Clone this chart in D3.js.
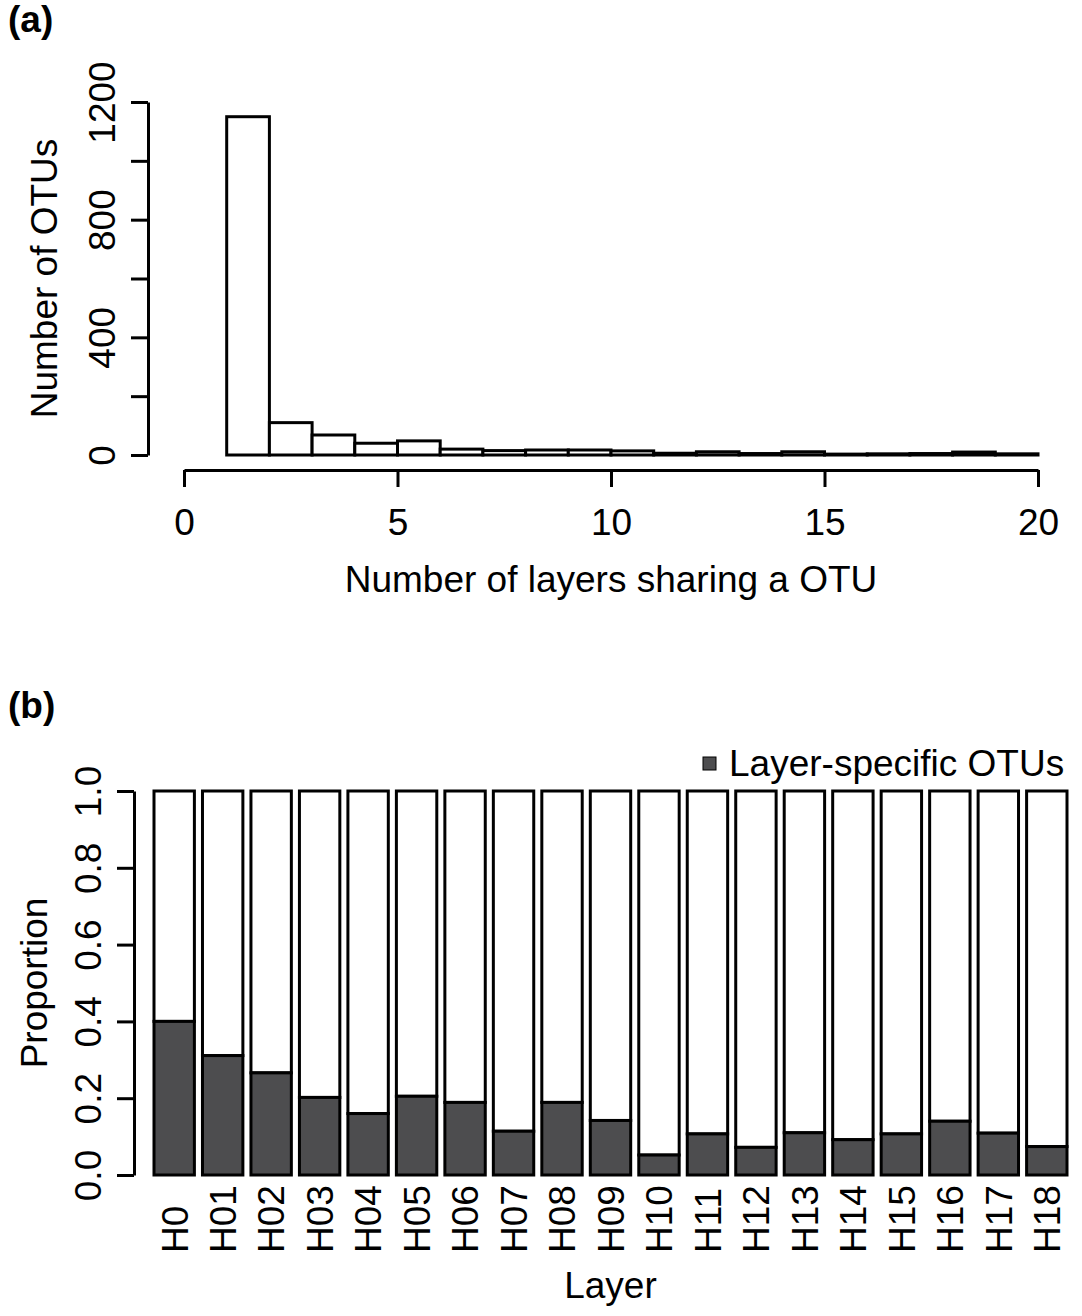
<!DOCTYPE html>
<html>
<head>
<meta charset="utf-8">
<script src="https://cdn.jsdelivr.net/npm/d3@7"></script>
<style>
  html, body { margin: 0; padding: 0; background: #fff; }
  svg { display: block; font-family: "Liberation Sans", Arial, Helvetica, sans-serif; }
</style>
</head>
<body>
<svg id="chart" width="1082" height="1316"></svg>
<script>
// ---------- Data ----------
// Panel (a): histogram of number of layers sharing an OTU (bins [k, k+1))
const binStarts = [1,2,3,4,5,6,7,8,9,10,11,12,13,14,15,16,17,18,19];
const otuCounts = [1150,110,68,40,48,20,15,17,17,14,6,11,5,11,3,4,5,10,4];
const histXTicks = [0,5,10,15,20];
const histYTicks = [0,200,400,600,800,1000,1200];
const histYLabels = [0,400,800,1200];

// Panel (b): proportion of layer-specific OTUs per layer
const layers = ["H0","H01","H02","H03","H04","H05","H06","H07","H08","H09",
                "H10","H11","H12","H13","H14","H15","H16","H17","H18"];
const specificProp = [0.40,0.311,0.266,0.202,0.160,0.205,0.189,0.114,0.189,0.142,
                      0.052,0.107,0.072,0.110,0.092,0.107,0.140,0.109,0.074];
const propTicks = [0,0.2,0.4,0.6,0.8,1.0];
const legendLabel = "Layer-specific OTUs";

// ---------- Styles ----------
const FS = 37;
const DARK = "#4d4d4f";
const svg = d3.select("#chart");

// ================= Panel (a) =================
const xA = d3.scaleLinear().domain([0,20]).range([184,1038]);
const yA = d3.scaleLinear().domain([0,1200]).range([455,102]);

svg.append("text").attr("x",8).attr("y",32)
  .attr("font-size",FS).attr("font-weight","bold").text("(a)");

svg.append("g").selectAll("rect").data(binStarts).join("rect")
  .attr("x", d => xA(d))
  .attr("width", d => xA(d+1) - xA(d))
  .attr("y", (d,i) => yA(otuCounts[i]))
  .attr("height", (d,i) => yA(0) - yA(otuCounts[i]))
  .attr("fill","#fff").attr("stroke","#000").attr("stroke-width",3);

// y axis (a)
const gyA = svg.append("g").attr("transform","translate(148,0)")
  .call(d3.axisLeft(yA).tickValues(histYTicks).tickSize(17).tickSizeOuter(0)
    .tickFormat(d => histYLabels.includes(d) ? d : ""));
gyA.select(".domain").attr("stroke-width",3);
gyA.selectAll(".tick line").attr("stroke-width",3);
gyA.selectAll(".tick text")
  .attr("font-size",FS).attr("font-family","Liberation Sans, Arial, sans-serif")
  .attr("fill","#000")
  .attr("transform","rotate(-90)")
  .attr("x",0).attr("y",-33).attr("dy",0)
  .attr("text-anchor","middle");

svg.append("text")
  .attr("transform", `translate(57,${(yA(0)+yA(1200))/2}) rotate(-90)`)
  .attr("text-anchor","middle").attr("font-size",FS)
  .text("Number of OTUs");

// x axis (a)
const gxA = svg.append("g").attr("transform","translate(0,470)")
  .call(d3.axisBottom(xA).tickValues(histXTicks).tickSize(17).tickSizeOuter(0));
gxA.select(".domain").attr("stroke-width",3);
gxA.selectAll(".tick line").attr("stroke-width",3);
gxA.selectAll(".tick text")
  .attr("font-size",FS).attr("font-family","Liberation Sans, Arial, sans-serif")
  .attr("fill","#000").attr("y",65).attr("dy",0);

svg.append("text")
  .attr("x",(xA(0)+xA(20))/2).attr("y",592)
  .attr("text-anchor","middle").attr("font-size",FS)
  .text("Number of layers sharing a OTU");

// ================= Panel (b) =================
const xB = d3.scaleBand().domain(layers).range([154,1067])
  .paddingInner(1/6).paddingOuter(0);
const yB = d3.scaleLinear().domain([0,1]).range([1175,791]);

svg.append("text").attr("x",8).attr("y",718)
  .attr("font-size",FS).attr("font-weight","bold").text("(b)");

const bars = svg.append("g");
bars.selectAll("rect.top").data(layers).join("rect").attr("class","top")
  .attr("x", d => xB(d)).attr("width", xB.bandwidth())
  .attr("y", (d,i) => yB(1))
  .attr("height", (d,i) => yB(specificProp[i]) - yB(1))
  .attr("fill","#fff").attr("stroke","#000").attr("stroke-width",3);
bars.selectAll("rect.bot").data(layers).join("rect").attr("class","bot")
  .attr("x", d => xB(d)).attr("width", xB.bandwidth())
  .attr("y", (d,i) => yB(specificProp[i]))
  .attr("height", (d,i) => yB(0) - yB(specificProp[i]))
  .attr("fill",DARK).attr("stroke","#000").attr("stroke-width",3);

// y axis (b)
const gyB = svg.append("g").attr("transform","translate(134,0)")
  .call(d3.axisLeft(yB).tickValues(propTicks).tickSize(17).tickSizeOuter(0)
    .tickFormat(d3.format(".1f")));
gyB.select(".domain").attr("stroke-width",3);
gyB.selectAll(".tick line").attr("stroke-width",3);
gyB.selectAll(".tick text")
  .attr("font-size",FS).attr("font-family","Liberation Sans, Arial, sans-serif")
  .attr("fill","#000")
  .attr("transform","rotate(-90)")
  .attr("x",0).attr("y",-33).attr("dy",0)
  .attr("text-anchor","middle");

svg.append("text")
  .attr("transform", `translate(47,${(yB(0)+yB(1))/2}) rotate(-90)`)
  .attr("text-anchor","middle").attr("font-size",FS)
  .text("Proportion");

// x labels (b)
const gxB = svg.append("g").attr("transform",`translate(0,${yB(0)})`)
  .call(d3.axisBottom(xB).tickSize(0));
gxB.select(".domain").remove();
gxB.selectAll(".tick text")
  .attr("font-size",FS).attr("font-family","Liberation Sans, Arial, sans-serif")
  .attr("fill","#000")
  .attr("transform","rotate(-90)")
  .attr("x",-78).attr("y",0).attr("dy","0.36em")
  .attr("text-anchor","start");

svg.append("text")
  .attr("x",(xB.range()[0]+xB.range()[1])/2).attr("y",1298)
  .attr("text-anchor","middle").attr("font-size",FS)
  .text("Layer");

// legend
const lg = svg.append("g");
lg.append("rect").attr("x",703).attr("y",757).attr("width",13).attr("height",13)
  .attr("fill",DARK).attr("stroke","#000").attr("stroke-width",1);
lg.append("text").attr("x",729).attr("y",776).attr("font-size",FS).text(legendLabel);
</script>
</body>
</html>
